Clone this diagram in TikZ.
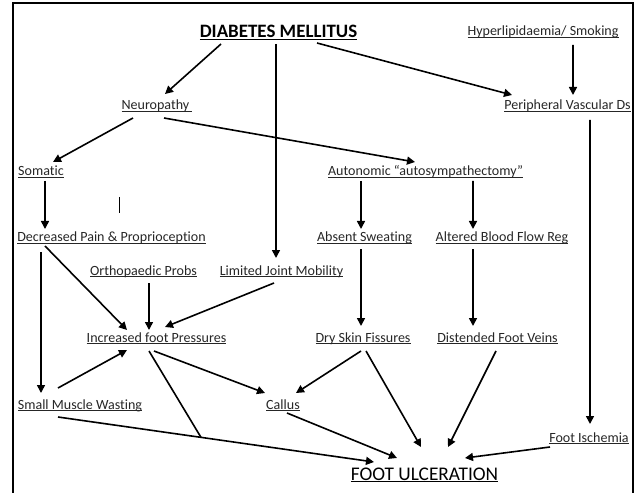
\documentclass[tikz,border=0pt]{standalone}
\usepackage{fontspec}
\setmainfont{Carlito}[Ligatures=NoCommon]
\usetikzlibrary{arrows.meta}
\newcommand\ulin[1]{\setbox0=\hbox{#1}\rlap{\rule[-2.2pt]{\wd0}{0.7pt}}\box0}
\begin{document}
\begin{tikzpicture}[x=1bp,y=-1bp,
  lbl/.style={inner sep=0pt,anchor=base,text=black!85,font=\fontsize{14.1}{16}\selectfont},
  big/.style={inner sep=0pt,anchor=base,text=black,font=\fontsize{19.4}{22}\selectfont},
  arr/.style={line width=1.6bp,-{Triangle[length=8bp,width=8bp]}},
  ln/.style={line width=1.6bp}]
\useasboundingbox (0,0) rectangle (637,493);
\draw[line width=2bp] (13,497) -- (13,3) -- (633,3) -- (633,497);
% nodes
\node[big,font=\bfseries\fontsize{19}{22}\selectfont] (dm) at (278.5,38) {\ulin{DIABETES MELLITUS}};
\node[lbl] (hyp) at (543,36) {\ulin{Hyperlipidaemia/ Smoking}};
\node[lbl] (neu) at (157,110) {\ulin{Neuropathy\ }};
\node[lbl] (pvd) at (567.5,110) {\ulin{Peripheral Vascular Ds}};
\node[lbl] (som) at (41,176) {\ulin{Somatic}};
\node[lbl] (aut) at (425.5,176) {\ulin{Autonomic “autosympathectomy”}};
\node[lbl] (dec) at (111.5,242) {\ulin{Decreased Pain \& Proprioception}};
\node[lbl] (abs) at (364.5,242) {\ulin{Absent Sweating}};
\node[lbl] (alt) at (502,242) {\ulin{Altered Blood Flow Reg}};
\node[lbl] (orth) at (143.5,275) {\ulin{Orthopaedic Probs}};
\node[lbl] (lim) at (281.5,275) {\ulin{Limited Joint Mobility}};
\node[lbl] (inc) at (156.5,342) {\ulin{Increased foot Pressures}};
\node[lbl] (dry) at (363,342) {\ulin{Dry Skin Fissures}};
\node[lbl] (dist) at (497.5,342) {\ulin{Distended Foot Veins}};
\node[lbl] (smw) at (80,409) {\ulin{Small Muscle Wasting}};
\node[lbl] (cal) at (283,409) {\ulin{Callus}};
\node[lbl] (isch) at (589,442) {\ulin{Foot Ischemia}};
\node[big] (fu) at (424.5,480) {\ulin{FOOT ULCERATION}};
% cursor mark
\draw[line width=0.8bp] (119,197) -- (119,213);
% connectors
\draw[arr] ([shift={(-57.5,6)}]dm.base) -- ([shift={(8,-16)}]neu.base);
\draw[arr] ([shift={(-2.5,6)}]dm.base) -- ([shift={(-5.5,-17)}]lim.base);
\draw[arr] ([shift={(38.5,5)}]dm.base) -- ([shift={(-55.5,-15)}]pvd.base);
\draw[arr] ([shift={(30,9)}]hyp.base) -- ([shift={(5.5,-15)}]pvd.base);
\draw[arr] ([shift={(-24,8)}]neu.base) -- ([shift={(12,-14)}]som.base);
\draw[arr] ([shift={(7,8)}]neu.base) -- ([shift={(-10.5,-14)}]aut.base);
\draw[arr] ([shift={(4,5)}]som.base) -- ([shift={(-66.5,-13)}]dec.base);
\draw[arr] ([shift={(-64.5,5)}]aut.base) -- ([shift={(-3.5,-13)}]abs.base);
\draw[arr] ([shift={(47.5,5)}]aut.base) -- ([shift={(-29,-13)}]alt.base);
\draw[arr] ([shift={(22.5,10)}]pvd.base) -- ([shift={(1,-18)}]isch.base);
\draw[arr] ([shift={(-70.5,10)}]dec.base) -- ([shift={(-39,-16)}]smw.base);
\draw[arr] ([shift={(-66.5,4)}]dec.base) -- ([shift={(-29.5,-12)}]inc.base);
\draw[arr] ([shift={(5.5,8)}]orth.base) -- ([shift={(-7.5,-12)}]inc.base);
\draw[arr] ([shift={(-7.5,8)}]lim.base) -- ([shift={(8.5,-15)}]inc.base);
\draw[arr] ([shift={(-22,-21)}]smw.base) -- ([shift={(-29.5,8)}]inc.base);
\draw[arr] ([shift={(-2.5,9)}]inc.base) -- ([shift={(-18,-16)}]cal.base);
\draw[arr] ([shift={(-22,8)}]smw.base) -- coordinate[pos=0.4525] (j) ([shift={(-50.5,-18)}]fu.base);
\draw[ln] ([shift={(-7.5,9)}]inc.base) -- (j);
\draw[arr] ([shift={(4,4)}]cal.base) -- ([shift={(-27.5,-22)}]fu.base);
\draw[arr] ([shift={(-2,9)}]dry.base) -- ([shift={(13,-16)}]cal.base);
\draw[arr] ([shift={(3,9)}]dry.base) -- ([shift={(-3.5,-33)}]fu.base);
\draw[arr] ([shift={(-1.5,9)}]dist.base) -- ([shift={(23.5,-33)}]fu.base);
\draw[arr] ([shift={(-39,5)}]isch.base) -- ([shift={(40.5,-22)}]fu.base);
\draw[arr] ([shift={(-3.5,7)}]abs.base) -- ([shift={(-2,-16)}]dry.base);
\draw[arr] ([shift={(-29,7)}]alt.base) -- ([shift={(-24.5,-16)}]dist.base);
\end{tikzpicture}
\end{document}
